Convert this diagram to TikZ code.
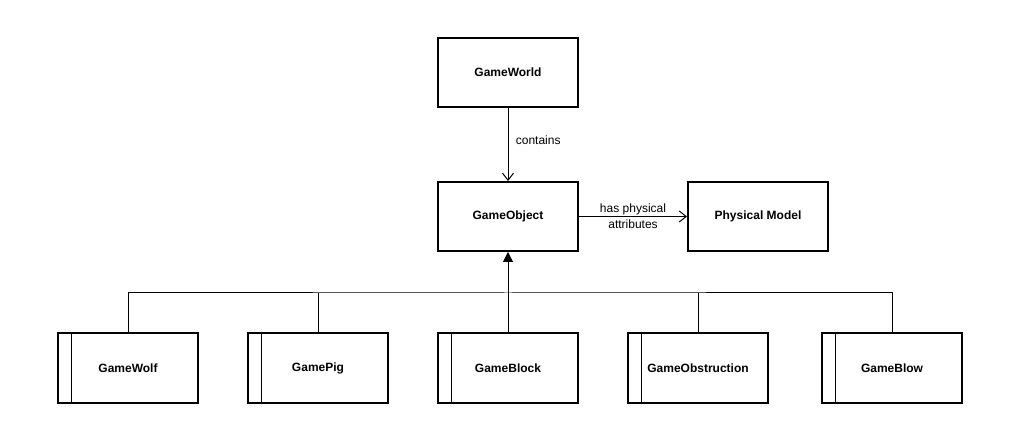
\documentclass[tikz,border=0pt]{standalone}
\usepackage{fontspec}
\setmainfont{Liberation Sans}
\usetikzlibrary{arrows.meta}
\begin{document}
\begin{tikzpicture}[x=1pt,y=-1pt,
  classbox/.style={draw,line width=2pt,minimum width=140pt,minimum height=69pt,
    inner sep=0pt,font=\fontsize{12}{14}\selectfont\bfseries},
  subclass/.style={classbox,minimum height=70pt,
    path picture={\draw[line width=1pt]
      ([xshift=13pt]path picture bounding box.north west) --
      ([xshift=13pt]path picture bounding box.south west);}},
  conn/.style={line width=1pt},
  label/.style={font=\fontsize{12}{16}\selectfont}]
\useasboundingbox (0,0) rectangle (1028,443);
% top level classes
\node[classbox] (world) at (508,72.5) {GameWorld};
\node[classbox] (obj) at (508,216.5) {GameObject};
\node[classbox] (phys) at (758,216.5) {Physical Model};
% subclasses
\node[subclass] (wolf) at (128,368) {GameWolf};
\node[subclass] (pig) at (318,368) {GamePig};
\node[subclass] (block) at (508,368) {GameBlock};
\node[subclass] (obst) at (698,368) {GameObstruction};
\node[subclass] (blow) at (892,368) {GameBlow};
\coordinate (bus) at (508,293);
% associations
\draw[conn,-{Straight Barb[length=7pt,width=11pt]}] (world) -- (obj)
  node[label,pos=0.44,right,xshift=4pt] {contains};
\draw[conn,-{Straight Barb[length=7pt,width=11pt]}] (obj) -- (phys)
  node[label,midway,align=center] {has physical\\attributes};
% generalization
\draw[conn,-{Triangle[length=10pt,width=10pt]}] (block.north) -- (obj.south);
\draw[conn] (wolf.north) |- (bus) -| (blow.north);
\draw[conn] (pig.north) -- (pig.north |- bus);
\draw[conn] (obst.north) -- (obst.north |- bus);
\end{tikzpicture}
\end{document}
